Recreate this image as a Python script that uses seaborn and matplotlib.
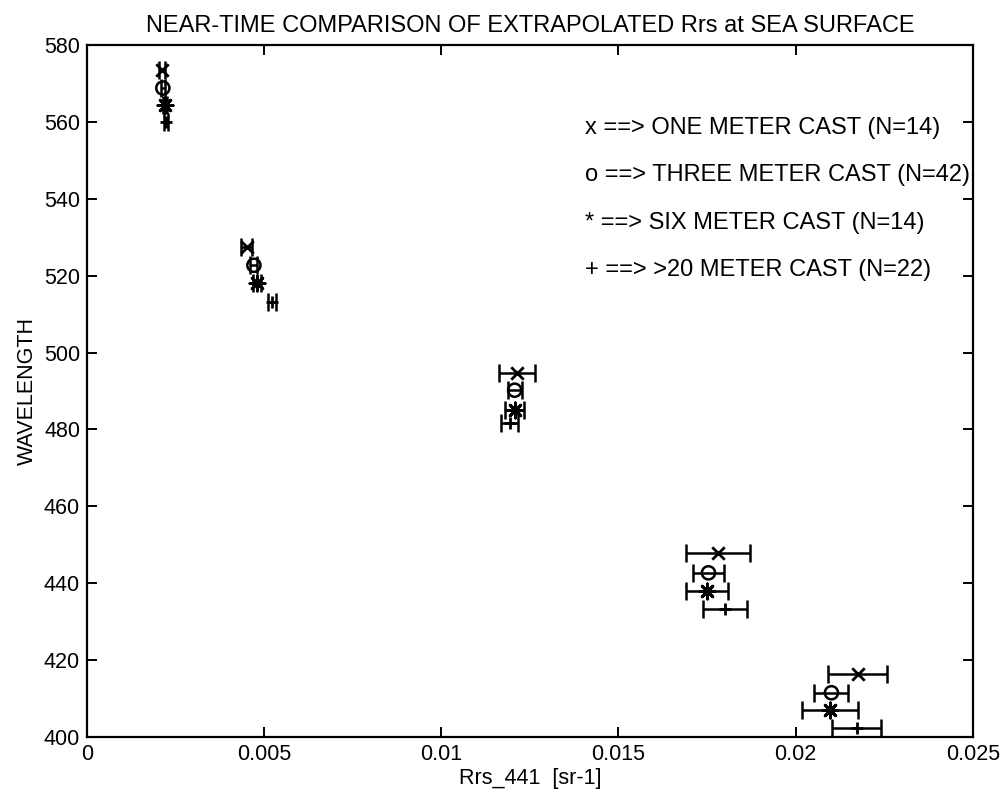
import matplotlib
matplotlib.use("Agg")
import matplotlib.pyplot as plt
import seaborn as sns
import pandas as pd

# Rrs at the sea surface per cast depth: wavelength, value and +/- spread
wl_one = [573.5, 527.4, 494.6, 447.8, 416.5]
rrs_one = [0.00212, 0.00451, 0.01214, 0.01780, 0.02175]
err_one = [0.00008, 0.00015, 0.00051, 0.00090, 0.00083]

wl_three = [568.8, 522.7, 490.2, 442.7, 411.5]
rrs_three = [0.00214, 0.00471, 0.01207, 0.01754, 0.02101]
err_three = [0.00005, 0.00010, 0.00020, 0.00045, 0.00048]

wl_six = [564.4, 518.0, 485.0, 438.0, 407.1]
rrs_six = [0.00220, 0.00480, 0.01207, 0.01750, 0.02097]
err_six = [0.00005, 0.00012, 0.00027, 0.00060, 0.00080]

wl_deep = [560.0, 513.1, 481.6, 433.3, 402.4]
rrs_deep = [0.00223, 0.00522, 0.01193, 0.01800, 0.02172]
err_deep = [0.00005, 0.00010, 0.00024, 0.00062, 0.00068]

legend_lines = [
    "x ==> ONE METER CAST (N=14)",
    "o ==> THREE METER CAST (N=42)",
    "* ==> SIX METER CAST (N=14)",
    "+ ==> >20 METER CAST (N=22)",
]
legend_wl = [558.4, 546.1, 533.6, 521.4]

xticks = [0, 0.005, 0.01, 0.015, 0.02, 0.025]
xtick_labels = ["0", "0.005", "0.01", "0.015", "0.02", "0.025"]
yticks = [400, 420, 440, 460, 480, 500, 520, 540, 560, 580]

sns.set_theme(style="ticks")
plt.rcParams["font.family"] = ["Liberation Sans", "DejaVu Sans"]
plt.rcParams["text.color"] = "black"
plt.rcParams["axes.labelcolor"] = "black"

fig = plt.figure(figsize=(10.06, 7.95), dpi=100)
ax = fig.add_axes([0.0865, 0.073, 0.8805, 0.8704])

groups = [
    ("one", wl_one, rrs_one, err_one, "x", 80),
    ("three", wl_three, rrs_three, err_three, "o", 90),
    ("six", wl_six, rrs_six, err_six, (8, 2, 0), 120),
    ("deep", wl_deep, rrs_deep, err_deep, "+", 80),
]

for name, wl, rrs, err, mk, size in groups:
    df = pd.DataFrame({"rrs": rrs, "wl": wl, "err": err})
    ax.errorbar(df["rrs"], df["wl"], xerr=df["err"], fmt="none",
                ecolor="black", elinewidth=1.8, capsize=6.5, capthick=1.8)
    if mk == "o":
        sns.scatterplot(data=df, x="rrs", y="wl", marker="o", s=size,
                        facecolors="none", edgecolor="black", linewidth=1.8,
                        ax=ax, legend=False, zorder=3)
    else:
        sns.scatterplot(data=df, x="rrs", y="wl", marker=mk, s=size,
                        color="black", linewidth=2.0, ax=ax,
                        legend=False, zorder=3)

for txt, yv in zip(legend_lines, legend_wl):
    ax.text(0.01405, yv, txt, fontsize=17, va="center", ha="left",
            color="black")

ax.set_xlim(0, 0.025)
ax.set_ylim(400, 580)
ax.set_xticks(xticks)
ax.set_xticklabels(xtick_labels)
ax.set_yticks(yticks)
ax.tick_params(direction="in", length=7, width=1.4, top=True, right=True,
               labelsize=15.5, colors="black", pad=5)
for sp in ax.spines.values():
    sp.set_linewidth(1.6)
    sp.set_color("black")

ax.set_xlabel("Rrs_441  [sr-1]", fontsize=15.5, labelpad=2)
ax.set_ylabel("WAVELENGTH", fontsize=15.5, labelpad=4)
ax.set_title("NEAR-TIME COMPARISON OF EXTRAPOLATED Rrs at SEA SURFACE",
             fontsize=17, pad=9)

fig.savefig("out.png", dpi=100, facecolor="white")
